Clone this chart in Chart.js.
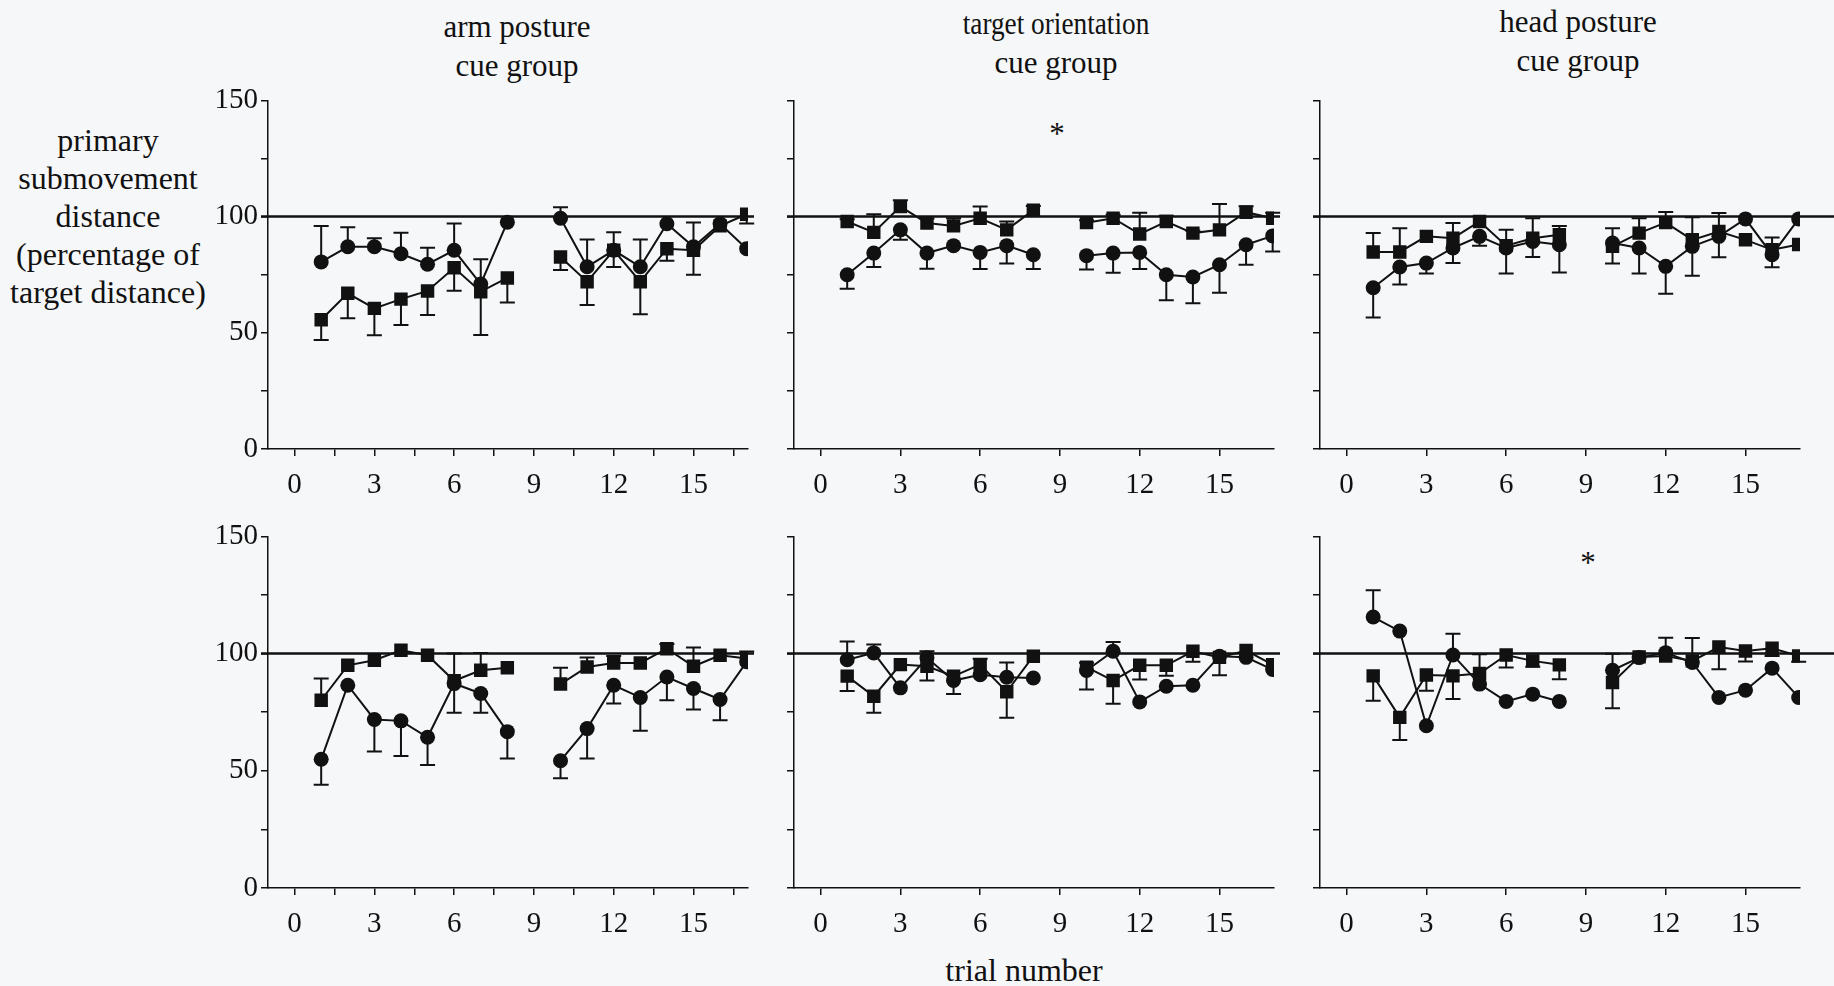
<!DOCTYPE html>
<html>
<head>
<meta charset="utf-8">
<title>primary submovement distance</title>
<script src="https://cdn.jsdelivr.net/npm/chart.js@4/dist/chart.umd.min.js"></script>
<style>
  body {
    margin: 0;
    width: 1834px;
    height: 986px;
    position: relative;
    overflow: hidden;
    background: #f6f7f8;
    font-family: 'Liberation Serif', 'DejaVu Serif', serif;
    color: #111;
  }
  .panel { position: absolute; }
  .txt {
    position: absolute;
    font-size: 31px;
    line-height: 39px;
    text-align: center;
    white-space: nowrap;
    transform: translateX(-50%);
  }
  .narrow { display: inline-block; transform: scaleX(0.88); }
</style>
</head>
<body>

<div class="txt" style="left:517px; top:7px;">arm posture<br>cue group</div>
<div class="txt" style="left:1056px; top:4px;"><span class="narrow">target orientation</span><br>cue group</div>
<div class="txt" style="left:1578px; top:2px;">head posture<br>cue group</div>
<div class="txt" style="left:108px; top:121px; line-height:38px; font-size:32px;">primary<br>submovement<br>distance<br>(percentage of<br>target distance)</div>
<div class="txt" style="left:1057px; top:114px;">*</div>
<div class="txt" style="left:1588px; top:543px;">*</div>
<div class="txt" style="left:1024px; top:951px; font-size:32px;">trial number</div>

<canvas id="c1" class="panel"></canvas>
<canvas id="c2" class="panel"></canvas>
<canvas id="c3" class="panel"></canvas>
<canvas id="c4" class="panel"></canvas>
<canvas id="c5" class="panel"></canvas>
<canvas id="c6" class="panel"></canvas>

<script>
'use strict';

// Data (trial 9 is a gap)
var trials = [1, 2, 3, 4, 5, 6, 7, 8, 9, 10, 11, 12, 13, 14, 15, 16, 17];
var xLabels = [0, 3, 6, 9, 12, 15];
var xTicksMinor = [0, 1.5, 3, 4.5, 6, 7.5, 9, 10.5, 12, 13.5, 15, 16.5];
var yLabels = [0, 50, 100, 150];

// errors: signed, + means bar goes up, - means down
var armTopCircle = [80.5, 87, 87, 84, 79.5, 85.5, 71, 97.6, null, 99.3, 78.4, 85.5, 78.4, 96.9, 87, 96.9, 86.2];
var armTopCircleErr = [15.5, 8.4, 3.7, 9, 7.1, 11.5, 10.6, 0, null, 4.7, 11.8, 7.8, 11.8, 0, -12, 0, 0];
var armTopSquare = [55.6, 67, 60.5, 64.5, 68, 78, 67.7, 73.6, null, 82.6, 72, 85.5, 72, 86.2, 85.5, 96, 101];
var armTopSquareErr = [-8.7, -10.7, -11.6, -11.1, -10.3, -9.9, -18.7, -10.6, null, -5.6, -10, -7.2, -14, -5.2, 12, 0, -4];

var targetTopCircle = [75, 84.3, 94.3, 84.3, 87.5, 84.6, 87.5, 83.6, null, 83.2, 84.3, 84.6, 75, 74, 79.3, 87.9, 91.7];
var targetTopCircleErr = [-6, -6, -4.3, -6.7, 0, -7.1, -7.7, -6.1, null, -6, -8.5, -7.1, -11, -11.3, -12.1, -8.6, -6.7];
var targetTopSquare = [97.9, 93.2, 104.3, 97.2, 96, 99.3, 94.3, 102.8, null, 97.4, 99.3, 92.5, 97.9, 92.9, 94.3, 101.9, 99.3];
var targetTopSquareErr = [1, 7.8, 2.7, 2, 3.3, 5, 3.6, 1.8, null, 1, 1.5, 9.2, 2.5, 1, 11.1, 2.5, 2.4];

var headTopCircle = [69.4, 78.3, 80, 86.5, 91.5, 86.5, 89.3, 87.9, null, 88.6, 86.5, 78.6, 87.2, 91.5, 99, 83.6, 99];
var headTopCircleErr = [-12.8, -7.5, -4.5, -6.5, -4, -11, -6.7, -11.9, null, -8.8, -11, -11.8, -12.6, -9, 0, -5.4, 0];
var headTopSquare = [84.8, 84.8, 91.5, 90.7, 97.9, 87.5, 90.7, 92.2, null, 87.2, 92.9, 97.4, 90, 93.6, 90, 85.7, 88];
var headTopSquareErr = [8.1, 10.2, 0, 6.5, 0, 6.8, 8.6, 3.8, null, 7.8, 6.4, 4.6, 9.7, 8, 0, 5.3, 0];

var armBotCircle = [54.9, 86.5, 71.9, 71.3, 64.3, 87.2, 83, 66.7, null, 54.3, 68, 86.5, 81.3, 90, 85.1, 80.4, 96.5];
var armBotCircleErr = [-10.9, 0, -13.7, -15, -11.8, -12.4, -8.2, -11.4, null, -7.5, -12.7, -7.8, -14.2, -9.9, -8.9, -8.8, 0];
var armBotSquare = [80.1, 95, 97.2, 101.4, 99.3, 88.4, 92.9, 94, null, 87, 94.3, 96, 96, 102.1, 94.6, 99.3, 97.9];
var armBotSquareErr = [9.3, 0, 0, 0, 0, 11.6, 7.4, 0, null, 7, 4, 3, 0, 2, 8, 0, 3];

var targetBotCircle = [97.4, 100.3, 85.4, 98.2, 88.5, 91, 89.9, 89.6, null, 92.8, 101, 79.4, 86.1, 86.5, 98.9, 98.4, 93.2];
var targetBotCircleErr = [7.8, 3.6, 0, 2.8, 0, 6.8, 6.3, 0, null, 3.3, 4, 0, 0, 0, 0, 0, 0];
var targetBotSquare = [90.4, 81.8, 95.3, 94.6, 90.4, 95.3, 83.7, 98.9, null, 94.2, 88.5, 95, 95, 101, 98.4, 101.3, 95.3];
var targetBotSquareErr = [-6.4, -7, 0, -6.1, -7.6, 0, -11.1, 0, null, -9.5, -9.9, -6.1, -4.5, -4.5, -7.6, 0, 0];

var headBotCircle = [115.6, 109.6, 69.2, 99.4, 87, 79.6, 82.7, 79.6, null, 92.9, 98.3, 100.4, 96.2, 81.3, 84.4, 93.8, 81.3];
var headBotCircleErr = [11.4, 0, 0, 9.1, 0, 0, 0, 0, null, 7, 0, 6.4, 10.5, 0, 0, 0, 0];
var headBotSquare = [90.5, 72.8, 90.9, 90.5, 91.5, 99.4, 96.9, 95.2, null, 87.7, 98.6, 99, 96.9, 102.8, 101.1, 102.3, 99];
var headBotSquareErr = [-10.6, -9.7, -6.8, -9.9, 8.2, -5.3, -2.5, -6.1, null, -11, 0, 0, 0, -9.5, -4.5, -3.3, -2.5];

var INK = '#111';
var FONT = "'Liberation Serif', 'DejaVu Serif', serif";

function pts(vals) {
  return trials.map(function(t, i) { return { x: t, y: vals[i] }; });
}

// error bars drawn under the markers
var errorBars = {
  id: 'errorBars',
  beforeDatasetsDraw: function(chart) {
    var ctx = chart.ctx;
    var ys = chart.scales.y;
    ctx.save();
    ctx.strokeStyle = INK;
    ctx.lineWidth = 2;
    chart.data.datasets.forEach(function(ds, i) {
      var meta = chart.getDatasetMeta(i);
      meta.data.forEach(function(pt, j) {
        var v = ds.data[j].y;
        var e = ds.errors[j];
        if (v == null || !e) return;
        var y1 = ys.getPixelForValue(v + e);
        ctx.beginPath();
        ctx.moveTo(pt.x, pt.y);
        ctx.lineTo(pt.x, y1);
        ctx.moveTo(pt.x - 7.5, y1);
        ctx.lineTo(pt.x + 7.5, y1);
        ctx.stroke();
      });
    });
    ctx.restore();
  }
};

// line at 100 %
var refLine = {
  id: 'refLine',
  beforeDatasetsDraw: function(chart, args, opts) {
    var ctx = chart.ctx;
    var a = chart.chartArea;
    var y = chart.scales.y.getPixelForValue(100);
    ctx.save();
    ctx.strokeStyle = INK;
    ctx.lineWidth = 2.5;
    ctx.beginPath();
    ctx.moveTo(a.left - 7, y);
    ctx.lineTo(opts.toEdge ? chart.width : a.right + 6, y);
    ctx.stroke();
    ctx.restore();
  }
};

var axisX = [268, 794, 1320];
var rowTop = [80, 516];
var rowPlotH = [349, 352];

var panels = [
  { id: 'c1', col: 0, row: 0, ci: armTopCircle, ciErr: armTopCircleErr, sq: armTopSquare, sqErr: armTopSquareErr },
  { id: 'c2', col: 1, row: 0, ci: targetTopCircle, ciErr: targetTopCircleErr, sq: targetTopSquare, sqErr: targetTopSquareErr },
  { id: 'c3', col: 2, row: 0, ci: headTopCircle, ciErr: headTopCircleErr, sq: headTopSquare, sqErr: headTopSquareErr },
  { id: 'c4', col: 0, row: 1, ci: armBotCircle, ciErr: armBotCircleErr, sq: armBotSquare, sqErr: armBotSquareErr },
  { id: 'c5', col: 1, row: 1, ci: targetBotCircle, ciErr: targetBotCircleErr, sq: targetBotSquare, sqErr: targetBotSquareErr },
  { id: 'c6', col: 2, row: 1, ci: headBotCircle, ciErr: headBotCircleErr, sq: headBotSquare, sqErr: headBotSquareErr }
];

panels.forEach(function(p) {
  var cv = document.getElementById(p.id);
  var left = axisX[p.col] - 70;
  var lastCol = p.col === 2;
  var w = lastCol ? 1834 - left : 562;
  var h = 20 + rowPlotH[p.row] + 62;
  cv.style.left = left + 'px';
  cv.style.top = rowTop[p.row] + 'px';
  cv.style.width = w + 'px';
  cv.style.height = h + 'px';
  cv.width = w;
  cv.height = h;

  var xTickVals = p.col === 0 ? xTicksMinor : xLabels;

  new Chart(cv, {
    type: 'line',
    data: {
      datasets: [
        {
          data: pts(p.sq),
          errors: p.sqErr,
          pointStyle: 'rect',
          pointRadius: 9.5,
          pointBorderWidth: 0,
          pointBackgroundColor: INK,
          borderColor: INK,
          borderWidth: 2,
          spanGaps: false
        },
        {
          data: pts(p.ci),
          errors: p.ciErr,
          pointStyle: 'circle',
          pointRadius: 7.5,
          pointBorderWidth: 0,
          pointBackgroundColor: INK,
          borderColor: INK,
          borderWidth: 2,
          spanGaps: false
        }
      ]
    },
    options: {
      responsive: false,
      animation: false,
      layout: { padding: { top: 20, right: lastCol ? w - 70 - 480 : 12, left: 0, bottom: 0 } },
      plugins: {
        legend: { display: false },
        tooltip: { enabled: false },
        refLine: { toEdge: lastCol }
      },
      scales: {
        x: {
          type: 'linear',
          min: -1,
          max: 17.05,
          afterBuildTicks: function(scale) {
            scale.ticks = xTickVals.map(function(v) { return { value: v }; });
          },
          afterFit: function(scale) { scale.height = 62; },
          ticks: {
            autoSkip: false,
            maxRotation: 0,
            padding: 12,
            color: INK,
            font: { family: FONT, size: 29 },
            callback: function(v) { return xLabels.indexOf(v) >= 0 ? String(v) : ''; }
          },
          grid: { drawOnChartArea: false, drawTicks: true, tickLength: 7, color: INK, lineWidth: 1.5 },
          border: { display: true, color: INK, width: 1.5 }
        },
        y: {
          min: 0,
          max: 150,
          afterFit: function(scale) { scale.width = 70; },
          ticks: {
            stepSize: 25,
            padding: 3,
            color: INK,
            font: { family: FONT, size: 29 },
            callback: function(v) { return p.col === 0 && yLabels.indexOf(v) >= 0 ? String(v) : ''; }
          },
          grid: { drawOnChartArea: false, drawTicks: true, tickLength: 7, color: INK, lineWidth: 1.5 },
          border: { display: true, color: INK, width: 1.5 }
        }
      }
    },
    plugins: [errorBars, refLine]
  });
});
</script>
</body>
</html>
